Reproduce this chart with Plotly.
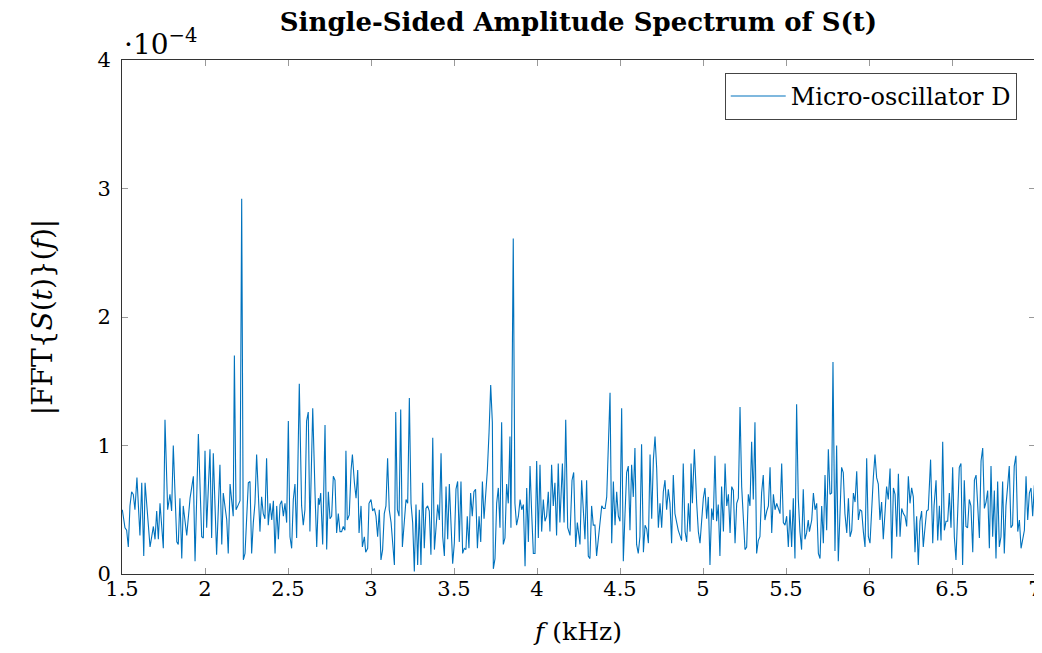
import plotly.graph_objects as go

# frequencies (kHz), segment by segment
freq_a = [1.502, 1.518, 1.528, 1.538, 1.548, 1.558, 1.568, 1.578, 1.590, 1.608,
          1.619, 1.631, 1.639, 1.653, 1.669, 1.689, 1.699, 1.709, 1.719, 1.729,
          1.749, 1.759, 1.775, 1.789, 1.799, 1.809, 1.819, 1.830, 1.839, 1.849,
          1.860, 1.869, 1.890, 1.910, 1.930, 1.940, 1.960, 1.970, 1.980, 1.990,
          2.000, 2.010, 2.030, 2.040, 2.050, 2.070, 2.090, 2.101, 2.110, 2.131,
          2.140, 2.151, 2.170, 2.177]
amp_a = [0.50, 0.36, 0.34, 0.21, 0.53, 0.64, 0.62, 0.50, 0.75, 0.30,
         0.71, 0.14, 0.71, 0.47, 0.21, 0.37, 0.27, 0.49, 0.27, 0.55,
         0.20, 1.20, 0.50, 0.62, 0.49, 1.00, 0.68, 0.25, 0.23, 0.59,
         0.12, 0.53, 0.30, 0.59, 0.76, 0.10, 1.09, 0.68, 0.29, 0.28,
         0.96, 0.36, 0.97, 0.28, 0.94, 0.15, 0.85, 0.23, 0.63, 0.42,
         0.16, 0.70, 0.45, 1.70]

freq_b = [2.187, 2.201, 2.211, 2.221, 2.231, 2.241, 2.251, 2.261, 2.271, 2.281,
          2.291, 2.301, 2.311, 2.331, 2.341, 2.351, 2.361, 2.371, 2.381, 2.392,
          2.402, 2.412, 2.422, 2.432, 2.442, 2.452, 2.462, 2.472, 2.482, 2.492,
          2.502, 2.512, 2.522, 2.532, 2.542, 2.552, 2.568, 2.582, 2.592, 2.602,
          2.612, 2.622, 2.632, 2.649, 2.663, 2.673, 2.683, 2.689, 2.697, 2.709,
          2.723, 2.733, 2.743, 2.753, 2.763, 2.773, 2.783, 2.793, 2.803, 2.813,
          2.823, 2.833, 2.843, 2.849, 2.857, 2.869]
amp_b = [0.50, 0.54, 0.57, 2.92, 0.11, 0.16, 0.45, 0.71, 0.72, 0.16,
         0.40, 0.55, 0.93, 0.33, 0.60, 0.47, 0.43, 0.90, 0.38, 0.55,
         0.42, 0.57, 0.16, 0.53, 0.27, 0.54, 0.57, 0.45, 0.55, 0.40,
         1.19, 0.29, 0.20, 0.58, 0.70, 0.28, 1.48, 0.53, 0.38, 0.50,
         1.19, 1.26, 0.33, 1.29, 0.62, 0.21, 0.59, 0.54, 0.63, 0.23,
         1.16, 0.19, 0.64, 0.43, 0.45, 0.76, 0.73, 0.32, 0.47, 0.33,
         0.33, 0.37, 0.34, 0.96, 0.42, 0.46]

freq_c = [2.880, 2.888, 2.900, 2.910, 2.920, 2.928, 2.940, 2.948, 2.960, 2.968,
          2.980, 2.988, 3.000, 3.010, 3.020, 3.030, 3.040, 3.050, 3.060, 3.070,
          3.080, 3.090, 3.100, 3.110, 3.121, 3.131, 3.141, 3.149, 3.159, 3.169,
          3.179, 3.189, 3.199, 3.211, 3.221, 3.231, 3.241, 3.251, 3.261, 3.271,
          3.281, 3.291, 3.301, 3.311, 3.321, 3.331, 3.341, 3.351, 3.361, 3.372,
          3.382, 3.392, 3.402, 3.412, 3.422, 3.432, 3.442, 3.452, 3.462, 3.472,
          3.482, 3.492, 3.502, 3.512, 3.522, 3.532, 3.542, 3.552, 3.562]
amp_c = [0.81, 0.93, 0.71, 0.59, 0.81, 0.32, 0.53, 0.21, 0.29, 0.17,
         0.20, 0.55, 0.58, 0.49, 0.51, 0.45, 0.29, 0.50, 0.11, 0.19,
         0.47, 0.53, 0.90, 0.50, 0.40, 0.24, 0.07, 1.26, 0.50, 0.45,
         1.28, 0.21, 0.37, 0.58, 0.55, 1.37, 0.55, 0.40, 0.02, 0.54,
         0.07, 0.50, 0.07, 0.71, 0.20, 0.51, 0.53, 0.49, 0.15, 1.06,
         0.19, 0.37, 0.54, 0.42, 0.94, 0.29, 0.14, 0.68, 0.27, 0.70,
         0.40, 0.08, 0.24, 0.66, 0.72, 0.25, 0.72, 0.16, 0.20]

freq_d = [3.572, 3.580, 3.590, 3.600, 3.610, 3.620, 3.630, 3.641, 3.651, 3.661,
          3.671, 3.681, 3.691, 3.701, 3.711, 3.721, 3.731, 3.737, 3.747, 3.757,
          3.767, 3.777, 3.787, 3.797, 3.807, 3.817, 3.827, 3.837, 3.843, 3.857,
          3.867, 3.877, 3.888, 3.898, 3.908, 3.918, 3.928, 3.938, 3.948, 3.958,
          3.968, 3.978, 3.988, 3.998, 4.008, 4.018, 4.028, 4.038, 4.048, 4.058,
          4.068, 4.078, 4.088, 4.098, 4.108, 4.118, 4.128, 4.138, 4.153, 4.163,
          4.173, 4.185, 4.199, 4.211, 4.221, 4.233, 4.243]
amp_d = [0.19, 0.45, 0.20, 0.63, 0.45, 0.64, 0.66, 0.20, 0.45, 0.25,
         0.72, 0.43, 0.59, 0.81, 1.10, 1.47, 1.18, 0.04, 0.12, 0.55,
         0.67, 0.36, 1.18, 0.23, 0.28, 0.70, 0.55, 1.07, 0.36, 2.61,
         0.55, 0.38, 0.45, 0.58, 0.50, 0.54, 0.06, 0.67, 0.25, 0.84,
         0.47, 0.16, 0.16, 0.88, 0.28, 0.85, 0.33, 0.58, 0.41, 0.45,
         0.64, 0.33, 0.85, 0.53, 0.71, 0.30, 0.86, 0.40, 0.86, 0.40,
         1.20, 0.36, 0.30, 0.73, 0.79, 0.21, 0.40]

freq_e = [4.259, 4.269, 4.279, 4.289, 4.299, 4.309, 4.319, 4.329, 4.339, 4.349,
          4.359, 4.369, 4.380, 4.390, 4.400, 4.410, 4.420, 4.430, 4.440, 4.450,
          4.460, 4.470, 4.480, 4.490, 4.500, 4.510, 4.520, 4.530, 4.540, 4.550,
          4.560, 4.570, 4.580, 4.590, 4.600, 4.610, 4.620, 4.630, 4.641, 4.651,
          4.661, 4.671, 4.681, 4.691, 4.701, 4.711, 4.721, 4.731, 4.741, 4.751,
          4.761, 4.771, 4.781, 4.791, 4.801, 4.811, 4.821, 4.831, 4.841, 4.851,
          4.861, 4.871, 4.881, 4.892, 4.902, 4.912, 4.922, 4.928, 4.936, 4.948]
amp_e = [0.23, 0.73, 0.46, 0.27, 0.73, 0.14, 0.12, 0.53, 0.38, 0.38,
         0.14, 0.25, 0.42, 0.53, 0.51, 0.51, 0.60, 0.98, 1.41, 0.24,
         0.72, 0.38, 0.64, 0.45, 0.41, 1.29, 0.10, 0.46, 0.79, 0.84,
         0.34, 0.85, 0.60, 0.98, 0.23, 0.16, 0.29, 1.01, 0.17, 0.38,
         0.35, 0.24, 0.93, 0.43, 0.89, 1.07, 0.82, 0.36, 0.55, 0.36,
         0.64, 0.73, 0.50, 0.66, 0.55, 0.24, 0.77, 0.47, 0.40, 0.34,
         0.30, 0.26, 0.86, 0.33, 0.25, 0.55, 0.33, 0.86, 0.55, 0.97]

freq_f = [4.962, 4.972, 4.982, 4.992, 5.002, 5.012, 5.022, 5.032, 5.042, 5.052,
          5.062, 5.072, 5.082, 5.092, 5.102, 5.112, 5.123, 5.133, 5.143, 5.153,
          5.163, 5.173, 5.183, 5.193, 5.203, 5.213, 5.223, 5.233, 5.243, 5.253,
          5.263, 5.273, 5.283, 5.293, 5.303, 5.313, 5.323, 5.333, 5.343, 5.353,
          5.363, 5.373, 5.384, 5.394, 5.404, 5.414, 5.424, 5.434, 5.444, 5.454,
          5.464, 5.474, 5.484, 5.494, 5.504, 5.514, 5.524, 5.534, 5.544, 5.554,
          5.564, 5.574, 5.584, 5.594, 5.604, 5.614, 5.624, 5.634, 5.641]
amp_f = [0.55, 0.33, 0.24, 0.45, 0.59, 0.67, 0.43, 0.60, 0.07, 0.51,
         0.42, 0.92, 0.41, 0.54, 0.14, 0.68, 0.33, 0.86, 0.53, 0.62,
         0.32, 0.68, 0.65, 0.24, 0.55, 0.59, 1.30, 0.68, 0.37, 0.19,
         0.21, 0.62, 0.53, 1.03, 0.58, 1.18, 0.16, 0.26, 0.29, 0.63,
         0.77, 0.42, 0.49, 0.53, 0.83, 0.32, 0.62, 0.50, 0.55, 0.50,
         0.47, 0.86, 0.40, 0.38, 0.45, 0.21, 0.50, 0.21, 0.59, 0.12,
         1.32, 0.59, 0.33, 0.19, 0.66, 0.27, 0.32, 0.42, 0.33]

freq_g = [5.655, 5.665, 5.675, 5.685, 5.695, 5.705, 5.715, 5.725, 5.735, 5.745,
          5.755, 5.765, 5.775, 5.783, 5.795, 5.805, 5.815, 5.825, 5.835, 5.845,
          5.855, 5.866, 5.876, 5.886, 5.896, 5.906, 5.916, 5.926, 5.936, 5.946,
          5.956, 5.966, 5.976, 5.986, 5.996, 6.006, 6.016, 6.026, 6.036, 6.046,
          6.056, 6.066, 6.076, 6.086, 6.096, 6.106, 6.116, 6.127, 6.137, 6.147,
          6.157, 6.167, 6.177, 6.187, 6.197, 6.207, 6.217, 6.227, 6.237, 6.247,
          6.257, 6.267, 6.277, 6.287, 6.297, 6.307, 6.317, 6.327, 6.333]
amp_g = [0.42, 0.63, 0.50, 0.55, 0.16, 0.12, 0.53, 0.24, 0.77, 0.34,
         0.97, 0.62, 0.63, 1.65, 0.18, 1.00, 0.10, 0.42, 0.83, 0.79,
         0.47, 0.32, 0.59, 0.29, 0.34, 0.63, 0.56, 0.80, 0.42, 0.50,
         0.49, 0.33, 0.21, 0.90, 0.29, 0.24, 0.53, 0.75, 0.93, 0.75,
         0.70, 0.42, 0.56, 0.27, 0.47, 0.68, 0.58, 0.82, 0.12, 0.67,
         0.62, 0.29, 0.78, 0.29, 0.51, 0.47, 0.45, 0.37, 0.76, 0.55,
         0.67, 0.60, 0.17, 0.45, 0.07, 0.41, 0.49, 0.21, 0.30]

freq_h = [6.347, 6.357, 6.371, 6.384, 6.392, 6.404, 6.414, 6.424, 6.434, 6.444,
          6.454, 6.464, 6.474, 6.484, 6.494, 6.504, 6.514, 6.524, 6.534, 6.544,
          6.554, 6.564, 6.574, 6.584, 6.594, 6.604, 6.614, 6.625, 6.635, 6.645,
          6.655, 6.665, 6.675, 6.685, 6.695, 6.705, 6.715, 6.725, 6.735, 6.745,
          6.755, 6.765, 6.775, 6.785, 6.795, 6.805, 6.815, 6.825, 6.835, 6.845,
          6.855, 6.865, 6.875, 6.885, 6.896, 6.906, 6.916, 6.926, 6.936, 6.946,
          6.956, 6.966, 6.976, 6.986, 6.996, 7.002]
amp_h = [0.49, 0.50, 0.89, 0.24, 0.53, 0.73, 0.26, 0.53, 0.26, 1.03,
         0.34, 0.41, 0.41, 0.63, 0.36, 0.83, 0.29, 0.11, 0.55, 0.83,
         0.86, 0.07, 0.73, 0.37, 0.36, 0.58, 0.53, 0.17, 0.73, 0.77,
         0.53, 0.28, 0.88, 0.98, 0.51, 0.56, 0.65, 0.20, 0.84, 0.29,
         0.65, 0.12, 0.72, 0.21, 0.29, 0.72, 0.16, 0.53, 0.68, 0.84,
         0.36, 0.38, 0.84, 0.92, 0.33, 0.42, 0.20, 0.27, 0.34, 0.76,
         0.42, 0.63, 0.67, 0.45, 0.69, 0.45]

freq_khz = freq_a + freq_b + freq_c + freq_d + freq_e + freq_f + freq_g + freq_h
amp_e4 = amp_a + amp_b + amp_c + amp_d + amp_e + amp_f + amp_g + amp_h  # units of 1e-4
amplitude = [a * 1e-4 for a in amp_e4]

y_ticks = [0, 1, 2, 3, 4]
x_ticks = [1.5, 2, 2.5, 3, 3.5, 4, 4.5, 5, 5.5, 6, 6.5, 7]

FONT = "DejaVu Serif"
BLUE = "#0072BD"

fig = go.Figure()
fig.add_trace(go.Scatter(
    x=freq_khz, y=amplitude, mode="lines", name="Micro-oscillator D",
    line=dict(color=BLUE, width=1.1)
))

axis_common = dict(
    showline=True, linecolor="#333333", linewidth=1, mirror="ticks",
    ticks="inside", ticklen=6, tickcolor="#999999", tickwidth=1,
    showgrid=False, zeroline=False, automargin=False,
    tickfont=dict(family=FONT, size=21, color="black"),
)

# page body adds an 8px offset, so the figure is 8px smaller than the window
fig.update_layout(
    width=1034, height=645,
    margin=dict(l=114, r=7, t=52, b=79),
    paper_bgcolor="white", plot_bgcolor="white",
    font=dict(family=FONT, color="black"),
    title=dict(text="<b>Single-Sided Amplitude Spectrum of S(t)</b>",
               x=0.5, xref="paper", y=0.978, yanchor="middle", automargin=False,
               font=dict(family=FONT, size=26)),
    xaxis=dict(range=[1.5, 7], tickvals=x_ticks,
               ticktext=[f"{v:g}" for v in x_ticks], ticklabelstandoff=-4,
               ticklabeloverflow="allow",
               title=dict(text="<i>f</i> (kHz)", font=dict(size=25), standoff=22),
               **axis_common),
    yaxis=dict(range=[0, 4e-4], tickvals=[v * 1e-4 for v in y_ticks],
               ticktext=[str(v) for v in y_ticks], ticklabelstandoff=6,
               title=dict(text="|FFT{<i>S</i>(<i>t</i>)}(<i>f</i>)|", font=dict(size=28),
                          standoff=36),
               **axis_common),
    legend=dict(x=0.98, y=0.975, xanchor="right", yanchor="top",
                bordercolor="#444444", borderwidth=1, bgcolor="white",
                itemwidth=55, font=dict(family=FONT, size=24)),
    showlegend=True,
)

fig.add_annotation(text="·10<sup>−4</sup>", xref="paper", yref="paper",
                   x=0, y=1, xanchor="left", yanchor="bottom", showarrow=False,
                   font=dict(family=FONT, size=28), yshift=-3)

fig.write_html("out.html")
